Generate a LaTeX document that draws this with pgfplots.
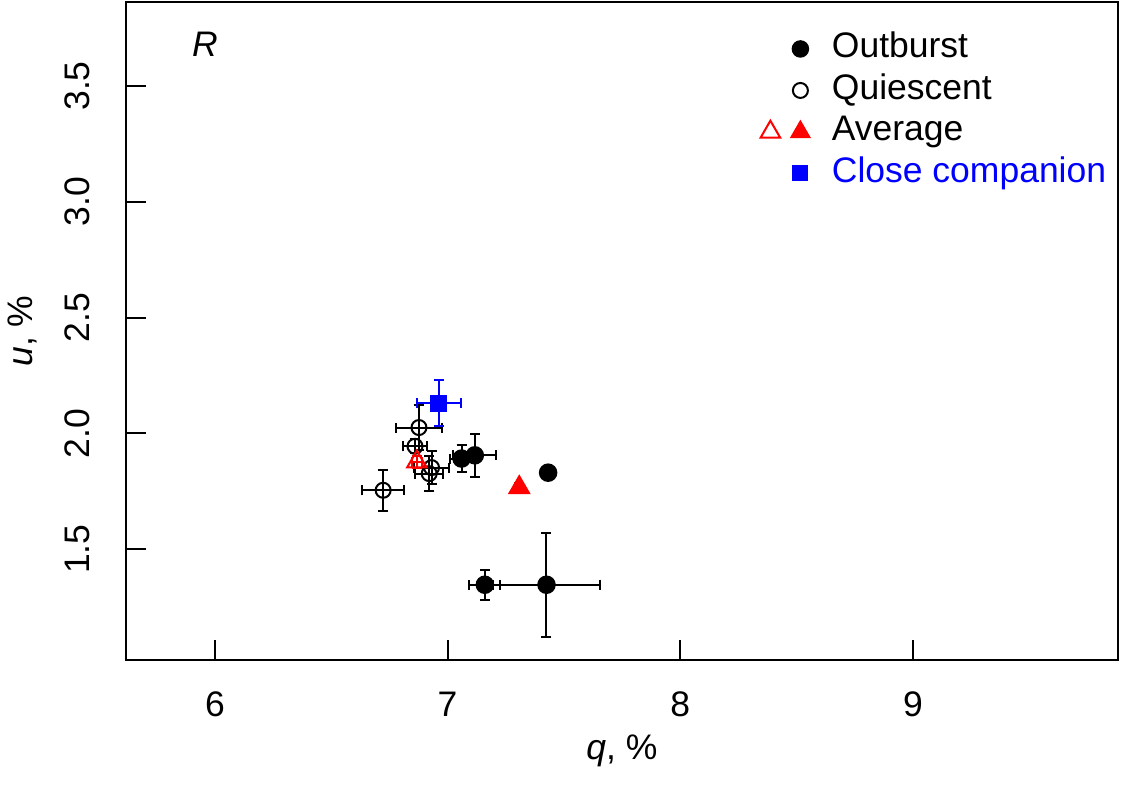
\documentclass[border=0pt]{standalone}
\usepackage{fontspec}
\setmainfont{Liberation Sans}
\usepackage{pgfplots}
\pgfplotsset{compat=1.18}

% q, u measurements (percent) with their uncertainties
\pgfplotstableread{
x      y      ex     ey
7.060  1.891  0.050  0.058
7.117  1.905  0.093  0.094
7.432  1.830  0.025  0.025
7.160  1.346  0.066  0.065
7.425  1.346  0.229  0.225
}\outburst
\pgfplotstableread{
x      y      ex     ey
6.877  2.025  0.099  0.096
6.860  1.944  0.053  0.030
6.931  1.852  0.077  0.070
6.921  1.826  0.060  0.077
6.723  1.754  0.089  0.089
}\quiescent
\pgfplotstableread{
x      y      ex     ey
6.868  1.877  0.020  0.025
}\avgquiet
\pgfplotstableread{
x      y      ex     ey
7.308  1.766  0.015  0.020
}\avgburst
\pgfplotstableread{
x      y      ex     ey
6.963  2.130  0.095  0.100
}\companion

\begin{document}
\fontsize{14.2pt}{17pt}\selectfont
\begin{tikzpicture}
\begin{axis}[
  name=ax,
  scale only axis,
  width=396.8pt, height=263.2pt,
  xmin=5.618, xmax=9.881, ymin=1.021, ymax=3.863,
  axis line style={line width=0.8pt},
  tick style={line width=0.8pt, black},
  tick align=inside, tick pos=left,
  major tick length=8pt,
  xtick={6,7,8,9},
  ytick={1.5,2.0,2.5,3.0,3.5},
  /pgf/number format/assume math mode=true,
  yticklabel style={/pgf/number format/fixed, /pgf/number format/fixed zerofill,
    /pgf/number format/precision=1, rotate=90, anchor=base},
  xticklabel style={anchor=base},
  xticklabel shift=22.8pt,
  yticklabel shift=14.4pt,
  xlabel={\textit{q}, \%},
  ylabel={\textit{u}, \%},
  x label style={at={(axis description cs:0.5,0)}, anchor=base, yshift=-40pt},
  y label style={at={(axis description cs:0,0.5)}, anchor=base, yshift=37.2pt},
  legend cell align=left,
  legend style={at={(rel axis cs:0.639,0.956)}, anchor=north west, draw=none, fill=none,
    inner sep=0pt, row sep=2.6pt,
    nodes={inner sep=0pt, text height=10.6pt, text depth=3.4pt},
    /tikz/every odd column/.append style={column sep=4.6pt}},
  error bars/error bar style={line width=0.8pt},
  error bars/error mark options={rotate=90, mark size=2pt, line width=0.8pt},
]
% legend entries
\addlegendimage{only marks, black, legend image code/.code={
  \path[draw=none] (0pt,0pt) rectangle (24pt,0pt);
  \draw[only marks, mark=*, mark size=3.3pt, fill=black] plot coordinates {(16pt,0pt)};}}
\addlegendentry{Outburst}
\addlegendimage{only marks, black, legend image code/.code={
  \path[draw=none] (0pt,0pt) rectangle (24pt,0pt);
  \draw[only marks, mark=o, mark size=3pt, line width=0.8pt] plot coordinates {(16pt,0pt)};}}
\addlegendentry{Quiescent}
\addlegendimage{only marks, red, legend image code/.code={
  \path[draw=none] (0pt,0pt) rectangle (24pt,0pt);
  \draw[red, only marks, mark=triangle, mark size=4.5pt, line width=0.8pt] plot coordinates {(4pt,0pt)};
  \draw[red, only marks, mark=triangle*, mark size=4.5pt, fill=red] plot coordinates {(16pt,0pt)};}}
\addlegendentry{Average}
\addlegendimage{only marks, blue, legend image code/.code={
  \path[draw=none] (0pt,0pt) rectangle (24pt,0pt);
  \draw[blue, only marks, mark=square*, mark size=3pt, fill=blue] plot coordinates {(16pt,0pt)};}}
\addlegendentry{\textcolor{blue}{Close companion}}

% data
\addplot[forget plot, black, only marks, mark=o, mark size=3pt, line width=0.8pt,
  error bars/.cd, x dir=both, x explicit, y dir=both, y explicit]
  table[x=x, y=y, x error=ex, y error=ey] {\quiescent};
\addplot[forget plot, red, only marks, mark=triangle, mark size=4.5pt, line width=0.8pt,
  error bars/.cd, x dir=both, x explicit, y dir=both, y explicit]
  table[x=x, y=y, x error=ex, y error=ey] {\avgquiet};
\addplot[forget plot, black, only marks, mark=*, mark size=3.3pt, fill=black, line width=0.8pt,
  error bars/.cd, x dir=both, x explicit, y dir=both, y explicit]
  table[x=x, y=y, x error=ex, y error=ey] {\outburst};
\addplot[forget plot, red, only marks, mark=triangle*, mark size=4.5pt, fill=red, line width=0.8pt,
  error bars/.cd, x dir=both, x explicit, y dir=both, y explicit]
  table[x=x, y=y, x error=ex, y error=ey] {\avgburst};
\addplot[forget plot, blue, only marks, mark=square*, mark size=3pt, fill=blue, line width=0.8pt,
  error bars/.cd, x dir=both, x explicit, y dir=both, y explicit]
  table[x=x, y=y, x error=ex, y error=ey] {\companion};

\node[anchor=base, font=\itshape] at (rel axis cs:0.0796,0.917) {R};
\end{axis}
\pgfresetboundingbox
\path (ax.south west) ++(-50.4pt,-51.2pt) rectangle ++(450pt,315.2pt);
\end{tikzpicture}
\end{document}
